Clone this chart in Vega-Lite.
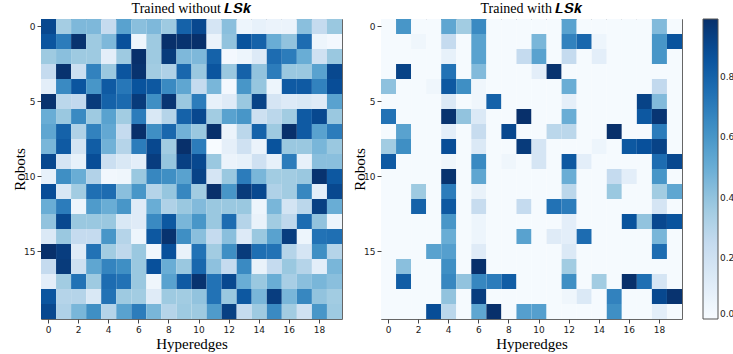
{
"$schema": "https://vega.github.io/schema/vega-lite/v6.json",
"padding": {"left": 12, "top": 1, "right": 0, "bottom": 0},
"bounds": "flush",
"spacing": 39,
"datasets": {
"a": [
{"r":0,"c":0,"v":0.9},{"r":0,"c":1,"v":0.35},{"r":0,"c":2,"v":0.45},{"r":0,"c":3,"v":0.45},{"r":0,"c":4,"v":0.25},{"r":0,"c":5,"v":0.55},{"r":0,"c":6,"v":0.42},{"r":0,"c":7,"v":0.45},{"r":0,"c":8,"v":0.37},{"r":0,"c":9,"v":0.8},{"r":0,"c":10,"v":0.9},{"r":0,"c":11,"v":0.17},{"r":0,"c":12,"v":0.42},{"r":0,"c":13,"v":0.05},{"r":0,"c":14,"v":0.08},{"r":0,"c":15,"v":0.06},{"r":0,"c":16,"v":0.06},{"r":0,"c":17,"v":0.42},{"r":0,"c":18,"v":0.25},{"r":0,"c":19,"v":0.38},
{"r":1,"c":0,"v":0.85},{"r":1,"c":1,"v":0.7},{"r":1,"c":2,"v":0.98},{"r":1,"c":3,"v":0.37},{"r":1,"c":4,"v":0.45},{"r":1,"c":5,"v":0.87},{"r":1,"c":6,"v":0.05},{"r":1,"c":7,"v":0.37},{"r":1,"c":8,"v":0.99},{"r":1,"c":9,"v":0.98},{"r":1,"c":10,"v":0.99},{"r":1,"c":11,"v":0.06},{"r":1,"c":12,"v":0.4},{"r":1,"c":13,"v":0.86},{"r":1,"c":14,"v":0.8},{"r":1,"c":15,"v":0.5},{"r":1,"c":16,"v":0.4},{"r":1,"c":17,"v":0.76},{"r":1,"c":18,"v":0.05},{"r":1,"c":19,"v":0.02},
{"r":2,"c":0,"v":0.37},{"r":2,"c":1,"v":0.42},{"r":2,"c":2,"v":0.37},{"r":2,"c":3,"v":0.37},{"r":2,"c":4,"v":0.1},{"r":2,"c":5,"v":0.37},{"r":2,"c":6,"v":0.99},{"r":2,"c":7,"v":0.37},{"r":2,"c":8,"v":0.95},{"r":2,"c":9,"v":0.45},{"r":2,"c":10,"v":0.45},{"r":2,"c":11,"v":0.8},{"r":2,"c":12,"v":0.02},{"r":2,"c":13,"v":0.05},{"r":2,"c":14,"v":0.13},{"r":2,"c":15,"v":0.76},{"r":2,"c":16,"v":0.7},{"r":2,"c":17,"v":0.5},{"r":2,"c":18,"v":0.2},{"r":2,"c":19,"v":0.38},
{"r":3,"c":0,"v":0.25},{"r":3,"c":1,"v":0.98},{"r":3,"c":2,"v":0.22},{"r":3,"c":3,"v":0.68},{"r":3,"c":4,"v":0.38},{"r":3,"c":5,"v":0.85},{"r":3,"c":6,"v":0.98},{"r":3,"c":7,"v":0.36},{"r":3,"c":8,"v":0.32},{"r":3,"c":9,"v":0.78},{"r":3,"c":10,"v":0.38},{"r":3,"c":11,"v":0.85},{"r":3,"c":12,"v":0.38},{"r":3,"c":13,"v":0.8},{"r":3,"c":14,"v":0.4},{"r":3,"c":15,"v":0.7},{"r":3,"c":16,"v":0.38},{"r":3,"c":17,"v":0.38},{"r":3,"c":18,"v":0.55},{"r":3,"c":19,"v":0.9},
{"r":4,"c":0,"v":0.1},{"r":4,"c":1,"v":0.65},{"r":4,"c":2,"v":0.85},{"r":4,"c":3,"v":0.6},{"r":4,"c":4,"v":0.83},{"r":4,"c":5,"v":0.72},{"r":4,"c":6,"v":0.86},{"r":4,"c":7,"v":0.84},{"r":4,"c":8,"v":0.65},{"r":4,"c":9,"v":0.53},{"r":4,"c":10,"v":0.25},{"r":4,"c":11,"v":0.46},{"r":4,"c":12,"v":0.02},{"r":4,"c":13,"v":0.6},{"r":4,"c":14,"v":0.39},{"r":4,"c":15,"v":0.05},{"r":4,"c":16,"v":0.83},{"r":4,"c":17,"v":0.83},{"r":4,"c":18,"v":0.68},{"r":4,"c":19,"v":0.88},
{"r":5,"c":0,"v":0.98},{"r":5,"c":1,"v":0.28},{"r":5,"c":2,"v":0.26},{"r":5,"c":3,"v":0.95},{"r":5,"c":4,"v":0.8},{"r":5,"c":5,"v":0.77},{"r":5,"c":6,"v":0.95},{"r":5,"c":7,"v":0.63},{"r":5,"c":8,"v":0.97},{"r":5,"c":9,"v":0.38},{"r":5,"c":10,"v":0.7},{"r":5,"c":11,"v":0.08},{"r":5,"c":12,"v":0.12},{"r":5,"c":13,"v":0.38},{"r":5,"c":14,"v":0.92},{"r":5,"c":15,"v":0.17},{"r":5,"c":16,"v":0.13},{"r":5,"c":17,"v":0.15},{"r":5,"c":18,"v":0.12},{"r":5,"c":19,"v":0.55},
{"r":6,"c":0,"v":0.5},{"r":6,"c":1,"v":0.38},{"r":6,"c":2,"v":0.65},{"r":6,"c":3,"v":0.37},{"r":6,"c":4,"v":0.55},{"r":6,"c":5,"v":0.36},{"r":6,"c":6,"v":0.7},{"r":6,"c":7,"v":0.15},{"r":6,"c":8,"v":0.3},{"r":6,"c":9,"v":0.8},{"r":6,"c":10,"v":0.9},{"r":6,"c":11,"v":0.36},{"r":6,"c":12,"v":0.55},{"r":6,"c":13,"v":0.6},{"r":6,"c":14,"v":0.21},{"r":6,"c":15,"v":0.28},{"r":6,"c":16,"v":0.36},{"r":6,"c":17,"v":0.83},{"r":6,"c":18,"v":0.9},{"r":6,"c":19,"v":0.38},
{"r":7,"c":0,"v":0.53},{"r":7,"c":1,"v":0.8},{"r":7,"c":2,"v":0.32},{"r":7,"c":3,"v":0.68},{"r":7,"c":4,"v":0.52},{"r":7,"c":5,"v":0.25},{"r":7,"c":6,"v":0.99},{"r":7,"c":7,"v":0.63},{"r":7,"c":8,"v":0.78},{"r":7,"c":9,"v":0.48},{"r":7,"c":10,"v":0.38},{"r":7,"c":11,"v":0.99},{"r":7,"c":12,"v":0.06},{"r":7,"c":13,"v":0.28},{"r":7,"c":14,"v":0.8},{"r":7,"c":15,"v":0.37},{"r":7,"c":16,"v":0.99},{"r":7,"c":17,"v":0.83},{"r":7,"c":18,"v":0.55},{"r":7,"c":19,"v":0.7},
{"r":8,"c":0,"v":0.46},{"r":8,"c":1,"v":0.83},{"r":8,"c":2,"v":0.18},{"r":8,"c":3,"v":0.82},{"r":8,"c":4,"v":0.48},{"r":8,"c":5,"v":0.3},{"r":8,"c":6,"v":0.7},{"r":8,"c":7,"v":0.9},{"r":8,"c":8,"v":0.36},{"r":8,"c":9,"v":0.99},{"r":8,"c":10,"v":0.7},{"r":8,"c":11,"v":0.0},{"r":8,"c":12,"v":0.09},{"r":8,"c":13,"v":0.2},{"r":8,"c":14,"v":0.06},{"r":8,"c":15,"v":0.86},{"r":8,"c":16,"v":0.38},{"r":8,"c":17,"v":0.38},{"r":8,"c":18,"v":0.46},{"r":8,"c":19,"v":0.38},
{"r":9,"c":0,"v":0.9},{"r":9,"c":1,"v":0.17},{"r":9,"c":2,"v":0.08},{"r":9,"c":3,"v":0.88},{"r":9,"c":4,"v":0.22},{"r":9,"c":5,"v":0.15},{"r":9,"c":6,"v":0.1},{"r":9,"c":7,"v":0.94},{"r":9,"c":8,"v":0.39},{"r":9,"c":9,"v":0.93},{"r":9,"c":10,"v":0.9},{"r":9,"c":11,"v":0.38},{"r":9,"c":12,"v":0.06},{"r":9,"c":13,"v":0.08},{"r":9,"c":14,"v":0.2},{"r":9,"c":15,"v":0.08},{"r":9,"c":16,"v":0.7},{"r":9,"c":17,"v":0.08},{"r":9,"c":18,"v":0.42},{"r":9,"c":19,"v":0.42},
{"r":10,"c":0,"v":0.08},{"r":10,"c":1,"v":0.63},{"r":10,"c":2,"v":0.5},{"r":10,"c":3,"v":0.31},{"r":10,"c":4,"v":0.03},{"r":10,"c":5,"v":0.04},{"r":10,"c":6,"v":0.38},{"r":10,"c":7,"v":0.66},{"r":10,"c":8,"v":0.63},{"r":10,"c":9,"v":0.55},{"r":10,"c":10,"v":0.92},{"r":10,"c":11,"v":0.17},{"r":10,"c":12,"v":0.38},{"r":10,"c":13,"v":0.7},{"r":10,"c":14,"v":0.46},{"r":10,"c":15,"v":0.36},{"r":10,"c":16,"v":0.36},{"r":10,"c":17,"v":0.38},{"r":10,"c":18,"v":0.98},{"r":10,"c":19,"v":0.84},
{"r":11,"c":0,"v":0.88},{"r":11,"c":1,"v":0.15},{"r":11,"c":2,"v":0.36},{"r":11,"c":3,"v":0.75},{"r":11,"c":4,"v":0.76},{"r":11,"c":5,"v":0.42},{"r":11,"c":6,"v":0.6},{"r":11,"c":7,"v":0.3},{"r":11,"c":8,"v":0.39},{"r":11,"c":9,"v":0.66},{"r":11,"c":10,"v":0.36},{"r":11,"c":11,"v":0.99},{"r":11,"c":12,"v":0.6},{"r":11,"c":13,"v":0.95},{"r":11,"c":14,"v":0.9},{"r":11,"c":15,"v":0.32},{"r":11,"c":16,"v":0.36},{"r":11,"c":17,"v":0.66},{"r":11,"c":18,"v":0.1},{"r":11,"c":19,"v":0.9},
{"r":12,"c":0,"v":0.5},{"r":12,"c":1,"v":0.7},{"r":12,"c":2,"v":0.05},{"r":12,"c":3,"v":0.58},{"r":12,"c":4,"v":0.5},{"r":12,"c":5,"v":0.6},{"r":12,"c":6,"v":0.12},{"r":12,"c":7,"v":0.5},{"r":12,"c":8,"v":0.32},{"r":12,"c":9,"v":0.38},{"r":12,"c":10,"v":0.44},{"r":12,"c":11,"v":0.38},{"r":12,"c":12,"v":0.38},{"r":12,"c":13,"v":0.38},{"r":12,"c":14,"v":0.05},{"r":12,"c":15,"v":0.46},{"r":12,"c":16,"v":0.18},{"r":12,"c":17,"v":0.28},{"r":12,"c":18,"v":0.93},{"r":12,"c":19,"v":0.5},
{"r":13,"c":0,"v":0.4},{"r":13,"c":1,"v":0.9},{"r":13,"c":2,"v":0.38},{"r":13,"c":3,"v":0.38},{"r":13,"c":4,"v":0.38},{"r":13,"c":5,"v":0.15},{"r":13,"c":6,"v":0.12},{"r":13,"c":7,"v":0.65},{"r":13,"c":8,"v":0.84},{"r":13,"c":9,"v":0.46},{"r":13,"c":10,"v":0.6},{"r":13,"c":11,"v":0.38},{"r":13,"c":12,"v":0.76},{"r":13,"c":13,"v":0.3},{"r":13,"c":14,"v":0.07},{"r":13,"c":15,"v":0.36},{"r":13,"c":16,"v":0.27},{"r":13,"c":17,"v":0.76},{"r":13,"c":18,"v":0.4},{"r":13,"c":19,"v":0.05},
{"r":14,"c":0,"v":0.14},{"r":14,"c":1,"v":0.38},{"r":14,"c":2,"v":0.25},{"r":14,"c":3,"v":0.25},{"r":14,"c":4,"v":0.6},{"r":14,"c":5,"v":0.3},{"r":14,"c":6,"v":0.05},{"r":14,"c":7,"v":0.84},{"r":14,"c":8,"v":0.98},{"r":14,"c":9,"v":0.63},{"r":14,"c":10,"v":0.42},{"r":14,"c":11,"v":0.25},{"r":14,"c":12,"v":0.42},{"r":14,"c":13,"v":0.13},{"r":14,"c":14,"v":0.38},{"r":14,"c":15,"v":0.55},{"r":14,"c":16,"v":0.94},{"r":14,"c":17,"v":0.05},{"r":14,"c":18,"v":0.74},{"r":14,"c":19,"v":0.75},
{"r":15,"c":0,"v":0.99},{"r":15,"c":1,"v":0.94},{"r":15,"c":2,"v":0.12},{"r":15,"c":3,"v":0.74},{"r":15,"c":4,"v":0.36},{"r":15,"c":5,"v":0.27},{"r":15,"c":6,"v":0.38},{"r":15,"c":7,"v":0.03},{"r":15,"c":8,"v":0.87},{"r":15,"c":9,"v":0.07},{"r":15,"c":10,"v":0.74},{"r":15,"c":11,"v":0.36},{"r":15,"c":12,"v":0.63},{"r":15,"c":13,"v":0.95},{"r":15,"c":14,"v":0.75},{"r":15,"c":15,"v":0.74},{"r":15,"c":16,"v":0.3},{"r":15,"c":17,"v":0.17},{"r":15,"c":18,"v":0.63},{"r":15,"c":19,"v":0.3},
{"r":16,"c":0,"v":0.25},{"r":16,"c":1,"v":0.95},{"r":16,"c":2,"v":0.21},{"r":16,"c":3,"v":0.53},{"r":16,"c":4,"v":0.67},{"r":16,"c":5,"v":0.63},{"r":16,"c":6,"v":0.38},{"r":16,"c":7,"v":0.87},{"r":16,"c":8,"v":0.5},{"r":16,"c":9,"v":0.38},{"r":16,"c":10,"v":0.78},{"r":16,"c":11,"v":0.41},{"r":16,"c":12,"v":0.25},{"r":16,"c":13,"v":0.65},{"r":16,"c":14,"v":0.07},{"r":16,"c":15,"v":0.25},{"r":16,"c":16,"v":0.38},{"r":16,"c":17,"v":0.3},{"r":16,"c":18,"v":0.1},{"r":16,"c":19,"v":0.46},
{"r":17,"c":0,"v":0.1},{"r":17,"c":1,"v":0.36},{"r":17,"c":2,"v":0.74},{"r":17,"c":3,"v":0.37},{"r":17,"c":4,"v":0.76},{"r":17,"c":5,"v":0.74},{"r":17,"c":6,"v":0.38},{"r":17,"c":7,"v":0.04},{"r":17,"c":8,"v":0.55},{"r":17,"c":9,"v":0.83},{"r":17,"c":10,"v":0.98},{"r":17,"c":11,"v":0.74},{"r":17,"c":12,"v":0.9},{"r":17,"c":13,"v":0.5},{"r":17,"c":14,"v":0.38},{"r":17,"c":15,"v":0.5},{"r":17,"c":16,"v":0.34},{"r":17,"c":17,"v":0.42},{"r":17,"c":18,"v":0.46},{"r":17,"c":19,"v":0.42},
{"r":18,"c":0,"v":0.85},{"r":18,"c":1,"v":0.3},{"r":18,"c":2,"v":0.3},{"r":18,"c":3,"v":0.15},{"r":18,"c":4,"v":0.74},{"r":18,"c":5,"v":0.37},{"r":18,"c":6,"v":0.36},{"r":18,"c":7,"v":0.12},{"r":18,"c":8,"v":0.37},{"r":18,"c":9,"v":0.36},{"r":18,"c":10,"v":0.4},{"r":18,"c":11,"v":0.74},{"r":18,"c":12,"v":0.38},{"r":18,"c":13,"v":0.84},{"r":18,"c":14,"v":0.46},{"r":18,"c":15,"v":0.94},{"r":18,"c":16,"v":0.46},{"r":18,"c":17,"v":0.66},{"r":18,"c":18,"v":0.4},{"r":18,"c":19,"v":0.36},
{"r":19,"c":0,"v":0.9},{"r":19,"c":1,"v":0.32},{"r":19,"c":2,"v":0.46},{"r":19,"c":3,"v":0.63},{"r":19,"c":4,"v":0.3},{"r":19,"c":5,"v":0.55},{"r":19,"c":6,"v":0.7},{"r":19,"c":7,"v":0.46},{"r":19,"c":8,"v":0.3},{"r":19,"c":9,"v":0.37},{"r":19,"c":10,"v":0.37},{"r":19,"c":11,"v":0.58},{"r":19,"c":12,"v":0.93},{"r":19,"c":13,"v":0.25},{"r":19,"c":14,"v":0.37},{"r":19,"c":15,"v":0.65},{"r":19,"c":16,"v":0.36},{"r":19,"c":17,"v":0.2},{"r":19,"c":18,"v":0.6},{"r":19,"c":19,"v":0.37}
],
"b": [
{"r":0,"c":0,"v":0.01},{"r":0,"c":1,"v":0.6},{"r":0,"c":2,"v":0.01},{"r":0,"c":3,"v":0.01},{"r":0,"c":4,"v":0.53},{"r":0,"c":5,"v":0.36},{"r":0,"c":6,"v":0.65},{"r":0,"c":7,"v":0.01},{"r":0,"c":8,"v":0.01},{"r":0,"c":9,"v":0.01},{"r":0,"c":10,"v":0.01},{"r":0,"c":11,"v":0.01},{"r":0,"c":12,"v":0.55},{"r":0,"c":13,"v":0.01},{"r":0,"c":14,"v":0.01},{"r":0,"c":15,"v":0.01},{"r":0,"c":16,"v":0.01},{"r":0,"c":17,"v":0.01},{"r":0,"c":18,"v":0.44},{"r":0,"c":19,"v":0.01},
{"r":1,"c":0,"v":0.01},{"r":1,"c":1,"v":0.01},{"r":1,"c":2,"v":0.04},{"r":1,"c":3,"v":0.01},{"r":1,"c":4,"v":0.25},{"r":1,"c":5,"v":0.01},{"r":1,"c":6,"v":0.55},{"r":1,"c":7,"v":0.01},{"r":1,"c":8,"v":0.01},{"r":1,"c":9,"v":0.01},{"r":1,"c":10,"v":0.46},{"r":1,"c":11,"v":0.01},{"r":1,"c":12,"v":0.68},{"r":1,"c":13,"v":0.78},{"r":1,"c":14,"v":0.05},{"r":1,"c":15,"v":0.01},{"r":1,"c":16,"v":0.01},{"r":1,"c":17,"v":0.01},{"r":1,"c":18,"v":0.6},{"r":1,"c":19,"v":0.86},
{"r":2,"c":0,"v":0.01},{"r":2,"c":1,"v":0.01},{"r":2,"c":2,"v":0.01},{"r":2,"c":3,"v":0.01},{"r":2,"c":4,"v":0.08},{"r":2,"c":5,"v":0.01},{"r":2,"c":6,"v":0.55},{"r":2,"c":7,"v":0.01},{"r":2,"c":8,"v":0.01},{"r":2,"c":9,"v":0.25},{"r":2,"c":10,"v":0.55},{"r":2,"c":11,"v":0.01},{"r":2,"c":12,"v":0.25},{"r":2,"c":13,"v":0.01},{"r":2,"c":14,"v":0.1},{"r":2,"c":15,"v":0.01},{"r":2,"c":16,"v":0.01},{"r":2,"c":17,"v":0.01},{"r":2,"c":18,"v":0.6},{"r":2,"c":19,"v":0.01},
{"r":3,"c":0,"v":0.01},{"r":3,"c":1,"v":0.92},{"r":3,"c":2,"v":0.01},{"r":3,"c":3,"v":0.01},{"r":3,"c":4,"v":0.74},{"r":3,"c":5,"v":0.01},{"r":3,"c":6,"v":0.44},{"r":3,"c":7,"v":0.01},{"r":3,"c":8,"v":0.01},{"r":3,"c":9,"v":0.01},{"r":3,"c":10,"v":0.1},{"r":3,"c":11,"v":0.98},{"r":3,"c":12,"v":0.01},{"r":3,"c":13,"v":0.01},{"r":3,"c":14,"v":0.01},{"r":3,"c":15,"v":0.01},{"r":3,"c":16,"v":0.01},{"r":3,"c":17,"v":0.01},{"r":3,"c":18,"v":0.01},{"r":3,"c":19,"v":0.01},
{"r":4,"c":0,"v":0.41},{"r":4,"c":1,"v":0.01},{"r":4,"c":2,"v":0.01},{"r":4,"c":3,"v":0.04},{"r":4,"c":4,"v":0.84},{"r":4,"c":5,"v":0.63},{"r":4,"c":6,"v":0.04},{"r":4,"c":7,"v":0.01},{"r":4,"c":8,"v":0.01},{"r":4,"c":9,"v":0.01},{"r":4,"c":10,"v":0.01},{"r":4,"c":11,"v":0.01},{"r":4,"c":12,"v":0.5},{"r":4,"c":13,"v":0.01},{"r":4,"c":14,"v":0.01},{"r":4,"c":15,"v":0.01},{"r":4,"c":16,"v":0.01},{"r":4,"c":17,"v":0.01},{"r":4,"c":18,"v":0.26},{"r":4,"c":19,"v":0.01},
{"r":5,"c":0,"v":0.01},{"r":5,"c":1,"v":0.01},{"r":5,"c":2,"v":0.01},{"r":5,"c":3,"v":0.01},{"r":5,"c":4,"v":0.14},{"r":5,"c":5,"v":0.01},{"r":5,"c":6,"v":0.04},{"r":5,"c":7,"v":0.8},{"r":5,"c":8,"v":0.01},{"r":5,"c":9,"v":0.01},{"r":5,"c":10,"v":0.01},{"r":5,"c":11,"v":0.01},{"r":5,"c":12,"v":0.09},{"r":5,"c":13,"v":0.01},{"r":5,"c":14,"v":0.01},{"r":5,"c":15,"v":0.01},{"r":5,"c":16,"v":0.01},{"r":5,"c":17,"v":0.92},{"r":5,"c":18,"v":0.44},{"r":5,"c":19,"v":0.01},
{"r":6,"c":0,"v":0.74},{"r":6,"c":1,"v":0.01},{"r":6,"c":2,"v":0.01},{"r":6,"c":3,"v":0.01},{"r":6,"c":4,"v":0.98},{"r":6,"c":5,"v":0.4},{"r":6,"c":6,"v":0.14},{"r":6,"c":7,"v":0.01},{"r":6,"c":8,"v":0.01},{"r":6,"c":9,"v":0.99},{"r":6,"c":10,"v":0.01},{"r":6,"c":11,"v":0.01},{"r":6,"c":12,"v":0.5},{"r":6,"c":13,"v":0.01},{"r":6,"c":14,"v":0.01},{"r":6,"c":15,"v":0.01},{"r":6,"c":16,"v":0.01},{"r":6,"c":17,"v":0.84},{"r":6,"c":18,"v":0.97},{"r":6,"c":19,"v":0.01},
{"r":7,"c":0,"v":0.01},{"r":7,"c":1,"v":0.55},{"r":7,"c":2,"v":0.01},{"r":7,"c":3,"v":0.01},{"r":7,"c":4,"v":0.1},{"r":7,"c":5,"v":0.01},{"r":7,"c":6,"v":0.24},{"r":7,"c":7,"v":0.01},{"r":7,"c":8,"v":0.9},{"r":7,"c":9,"v":0.01},{"r":7,"c":10,"v":0.01},{"r":7,"c":11,"v":0.28},{"r":7,"c":12,"v":0.28},{"r":7,"c":13,"v":0.01},{"r":7,"c":14,"v":0.01},{"r":7,"c":15,"v":0.99},{"r":7,"c":16,"v":0.01},{"r":7,"c":17,"v":0.01},{"r":7,"c":18,"v":0.7},{"r":7,"c":19,"v":0.01},
{"r":8,"c":0,"v":0.36},{"r":8,"c":1,"v":0.63},{"r":8,"c":2,"v":0.01},{"r":8,"c":3,"v":0.01},{"r":8,"c":4,"v":0.88},{"r":8,"c":5,"v":0.01},{"r":8,"c":6,"v":0.14},{"r":8,"c":7,"v":0.01},{"r":8,"c":8,"v":0.01},{"r":8,"c":9,"v":0.95},{"r":8,"c":10,"v":0.17},{"r":8,"c":11,"v":0.01},{"r":8,"c":12,"v":0.01},{"r":8,"c":13,"v":0.01},{"r":8,"c":14,"v":0.05},{"r":8,"c":15,"v":0.01},{"r":8,"c":16,"v":0.84},{"r":8,"c":17,"v":0.87},{"r":8,"c":18,"v":0.92},{"r":8,"c":19,"v":0.01},
{"r":9,"c":0,"v":0.83},{"r":9,"c":1,"v":0.01},{"r":9,"c":2,"v":0.01},{"r":9,"c":3,"v":0.01},{"r":9,"c":4,"v":0.04},{"r":9,"c":5,"v":0.01},{"r":9,"c":6,"v":0.65},{"r":9,"c":7,"v":0.01},{"r":9,"c":8,"v":0.04},{"r":9,"c":9,"v":0.01},{"r":9,"c":10,"v":0.17},{"r":9,"c":11,"v":0.01},{"r":9,"c":12,"v":0.84},{"r":9,"c":13,"v":0.1},{"r":9,"c":14,"v":0.01},{"r":9,"c":15,"v":0.01},{"r":9,"c":16,"v":0.01},{"r":9,"c":17,"v":0.01},{"r":9,"c":18,"v":0.76},{"r":9,"c":19,"v":0.9},
{"r":10,"c":0,"v":0.01},{"r":10,"c":1,"v":0.01},{"r":10,"c":2,"v":0.01},{"r":10,"c":3,"v":0.01},{"r":10,"c":4,"v":0.98},{"r":10,"c":5,"v":0.01},{"r":10,"c":6,"v":0.53},{"r":10,"c":7,"v":0.01},{"r":10,"c":8,"v":0.01},{"r":10,"c":9,"v":0.01},{"r":10,"c":10,"v":0.01},{"r":10,"c":11,"v":0.01},{"r":10,"c":12,"v":0.5},{"r":10,"c":13,"v":0.01},{"r":10,"c":14,"v":0.01},{"r":10,"c":15,"v":0.25},{"r":10,"c":16,"v":0.1},{"r":10,"c":17,"v":0.01},{"r":10,"c":18,"v":0.6},{"r":10,"c":19,"v":0.01},
{"r":11,"c":0,"v":0.01},{"r":11,"c":1,"v":0.01},{"r":11,"c":2,"v":0.37},{"r":11,"c":3,"v":0.01},{"r":11,"c":4,"v":0.7},{"r":11,"c":5,"v":0.01},{"r":11,"c":6,"v":0.07},{"r":11,"c":7,"v":0.01},{"r":11,"c":8,"v":0.01},{"r":11,"c":9,"v":0.01},{"r":11,"c":10,"v":0.01},{"r":11,"c":11,"v":0.01},{"r":11,"c":12,"v":0.28},{"r":11,"c":13,"v":0.01},{"r":11,"c":14,"v":0.01},{"r":11,"c":15,"v":0.38},{"r":11,"c":16,"v":0.01},{"r":11,"c":17,"v":0.01},{"r":11,"c":18,"v":0.36},{"r":11,"c":19,"v":0.53},
{"r":12,"c":0,"v":0.01},{"r":12,"c":1,"v":0.01},{"r":12,"c":2,"v":0.8},{"r":12,"c":3,"v":0.01},{"r":12,"c":4,"v":0.84},{"r":12,"c":5,"v":0.01},{"r":12,"c":6,"v":0.24},{"r":12,"c":7,"v":0.01},{"r":12,"c":8,"v":0.01},{"r":12,"c":9,"v":0.25},{"r":12,"c":10,"v":0.01},{"r":12,"c":11,"v":0.74},{"r":12,"c":12,"v":0.7},{"r":12,"c":13,"v":0.01},{"r":12,"c":14,"v":0.01},{"r":12,"c":15,"v":0.01},{"r":12,"c":16,"v":0.01},{"r":12,"c":17,"v":0.01},{"r":12,"c":18,"v":0.17},{"r":12,"c":19,"v":0.01},
{"r":13,"c":0,"v":0.01},{"r":13,"c":1,"v":0.01},{"r":13,"c":2,"v":0.01},{"r":13,"c":3,"v":0.01},{"r":13,"c":4,"v":0.6},{"r":13,"c":5,"v":0.01},{"r":13,"c":6,"v":0.05},{"r":13,"c":7,"v":0.01},{"r":13,"c":8,"v":0.01},{"r":13,"c":9,"v":0.01},{"r":13,"c":10,"v":0.01},{"r":13,"c":11,"v":0.01},{"r":13,"c":12,"v":0.1},{"r":13,"c":13,"v":0.01},{"r":13,"c":14,"v":0.01},{"r":13,"c":15,"v":0.01},{"r":13,"c":16,"v":0.86},{"r":13,"c":17,"v":0.4},{"r":13,"c":18,"v":0.9},{"r":13,"c":19,"v":0.86},
{"r":14,"c":0,"v":0.01},{"r":14,"c":1,"v":0.01},{"r":14,"c":2,"v":0.01},{"r":14,"c":3,"v":0.01},{"r":14,"c":4,"v":0.5},{"r":14,"c":5,"v":0.01},{"r":14,"c":6,"v":0.05},{"r":14,"c":7,"v":0.01},{"r":14,"c":8,"v":0.01},{"r":14,"c":9,"v":0.55},{"r":14,"c":10,"v":0.01},{"r":14,"c":11,"v":0.12},{"r":14,"c":12,"v":0.1},{"r":14,"c":13,"v":0.76},{"r":14,"c":14,"v":0.01},{"r":14,"c":15,"v":0.01},{"r":14,"c":16,"v":0.01},{"r":14,"c":17,"v":0.01},{"r":14,"c":18,"v":0.46},{"r":14,"c":19,"v":0.01},
{"r":15,"c":0,"v":0.01},{"r":15,"c":1,"v":0.01},{"r":15,"c":2,"v":0.01},{"r":15,"c":3,"v":0.55},{"r":15,"c":4,"v":0.56},{"r":15,"c":5,"v":0.01},{"r":15,"c":6,"v":0.12},{"r":15,"c":7,"v":0.01},{"r":15,"c":8,"v":0.01},{"r":15,"c":9,"v":0.01},{"r":15,"c":10,"v":0.01},{"r":15,"c":11,"v":0.01},{"r":15,"c":12,"v":0.14},{"r":15,"c":13,"v":0.01},{"r":15,"c":14,"v":0.01},{"r":15,"c":15,"v":0.01},{"r":15,"c":16,"v":0.01},{"r":15,"c":17,"v":0.01},{"r":15,"c":18,"v":0.76},{"r":15,"c":19,"v":0.01},
{"r":16,"c":0,"v":0.01},{"r":16,"c":1,"v":0.42},{"r":16,"c":2,"v":0.01},{"r":16,"c":3,"v":0.01},{"r":16,"c":4,"v":0.63},{"r":16,"c":5,"v":0.01},{"r":16,"c":6,"v":0.99},{"r":16,"c":7,"v":0.01},{"r":16,"c":8,"v":0.01},{"r":16,"c":9,"v":0.01},{"r":16,"c":10,"v":0.01},{"r":16,"c":11,"v":0.01},{"r":16,"c":12,"v":0.36},{"r":16,"c":13,"v":0.01},{"r":16,"c":14,"v":0.01},{"r":16,"c":15,"v":0.01},{"r":16,"c":16,"v":0.01},{"r":16,"c":17,"v":0.01},{"r":16,"c":18,"v":0.01},{"r":16,"c":19,"v":0.01},
{"r":17,"c":0,"v":0.01},{"r":17,"c":1,"v":0.82},{"r":17,"c":2,"v":0.01},{"r":17,"c":3,"v":0.01},{"r":17,"c":4,"v":0.66},{"r":17,"c":5,"v":0.4},{"r":17,"c":6,"v":0.66},{"r":17,"c":7,"v":0.7},{"r":17,"c":8,"v":0.82},{"r":17,"c":9,"v":0.01},{"r":17,"c":10,"v":0.01},{"r":17,"c":11,"v":0.01},{"r":17,"c":12,"v":0.63},{"r":17,"c":13,"v":0.01},{"r":17,"c":14,"v":0.36},{"r":17,"c":15,"v":0.01},{"r":17,"c":16,"v":0.99},{"r":17,"c":17,"v":0.75},{"r":17,"c":18,"v":0.17},{"r":17,"c":19,"v":0.01},
{"r":18,"c":0,"v":0.01},{"r":18,"c":1,"v":0.01},{"r":18,"c":2,"v":0.01},{"r":18,"c":3,"v":0.01},{"r":18,"c":4,"v":0.4},{"r":18,"c":5,"v":0.01},{"r":18,"c":6,"v":0.94},{"r":18,"c":7,"v":0.01},{"r":18,"c":8,"v":0.01},{"r":18,"c":9,"v":0.01},{"r":18,"c":10,"v":0.01},{"r":18,"c":11,"v":0.01},{"r":18,"c":12,"v":0.04},{"r":18,"c":13,"v":0.14},{"r":18,"c":14,"v":0.01},{"r":18,"c":15,"v":0.68},{"r":18,"c":16,"v":0.01},{"r":18,"c":17,"v":0.01},{"r":18,"c":18,"v":0.9},{"r":18,"c":19,"v":0.98},
{"r":19,"c":0,"v":0.01},{"r":19,"c":1,"v":0.01},{"r":19,"c":2,"v":0.01},{"r":19,"c":3,"v":0.88},{"r":19,"c":4,"v":0.28},{"r":19,"c":5,"v":0.01},{"r":19,"c":6,"v":0.53},{"r":19,"c":7,"v":0.99},{"r":19,"c":8,"v":0.01},{"r":19,"c":9,"v":0.56},{"r":19,"c":10,"v":0.56},{"r":19,"c":11,"v":0.01},{"r":19,"c":12,"v":0.01},{"r":19,"c":13,"v":0.01},{"r":19,"c":14,"v":0.01},{"r":19,"c":15,"v":0.63},{"r":19,"c":16,"v":0.01},{"r":19,"c":17,"v":0.01},{"r":19,"c":18,"v":0.1},{"r":19,"c":19,"v":0.01}
]
},
"hconcat": [
{
"data": {"name": "a"},
"title": {"text": "Trained without 𝑳𝑺𝒌"},
"width": 301, "height": 300,
"mark": {"type": "rect"},
"encoding": {
"x": {"field": "c", "type": "ordinal", "scale": {"paddingInner": 0, "paddingOuter": 0}, "axis": {"values": [0,2,4,6,8,10,12,14,16,18], "labelAngle": 0, "title": "Hyperedges"}},
"y": {"field": "r", "type": "ordinal", "scale": {"paddingInner": 0, "paddingOuter": 0}, "axis": {"values": [0,5,10,15], "title": "Robots"}},
"color": {"field": "v", "type": "quantitative", "scale": {"type": "linear", "domain": [0, 0.12375, 0.2475, 0.37125, 0.495, 0.61875, 0.7425, 0.86625, 0.99], "range": ["#f7fbff", "#deebf7", "#c6dbef", "#9ecae1", "#6baed6", "#4292c6", "#2171b5", "#08519c", "#08306b"], "interpolate": "rgb"}, "legend": {"values": [0,0.2,0.4,0.6,0.8], "format": ".1f", "title": null, "gradientLength": 300, "gradientThickness": 15, "offset": 20, "padding": 0, "labelFont": "DejaVu Sans", "labelFontSize": 9, "labelColor": "#222", "gradientStrokeColor": "#555", "gradientStrokeWidth": 1}}
}
},
{
"data": {"name": "b"},
"title": {"text": "Trained with 𝑳𝑺𝒌"},
"width": 301, "height": 300,
"mark": {"type": "rect"},
"encoding": {
"x": {"field": "c", "type": "ordinal", "scale": {"paddingInner": 0, "paddingOuter": 0}, "axis": {"values": [0,2,4,6,8,10,12,14,16,18], "labelAngle": 0, "title": "Hyperedges"}},
"y": {"field": "r", "type": "ordinal", "scale": {"paddingInner": 0, "paddingOuter": 0}, "axis": {"values": [0,5,10,15], "title": "Robots"}},
"color": {"field": "v", "type": "quantitative", "scale": {"type": "linear", "domain": [0, 0.12375, 0.2475, 0.37125, 0.495, 0.61875, 0.7425, 0.86625, 0.99], "range": ["#f7fbff", "#deebf7", "#c6dbef", "#9ecae1", "#6baed6", "#4292c6", "#2171b5", "#08519c", "#08306b"], "interpolate": "rgb"}}
}
}
],
"resolve": {"scale": {"color": "shared"}},
"config": {
"view": {"stroke": "#666", "strokeWidth": 1},
"title": {"font": "Liberation Serif", "fontSize": 14, "fontWeight": "normal", "color": "#000", "offset": 3},
"axis": {"labelFont": "DejaVu Sans", "labelFontSize": 9, "labelColor": "#222", "tickColor": "#444", "tickSize": 4, "labelPadding": 2, "domain": false, "grid": false, "titleFont": "Liberation Serif", "titleFontSize": 15, "titleFontWeight": "normal", "titleColor": "#000"},
"axisX": {"titlePadding": 2},
"axisY": {"titlePadding": -4}
}
}
